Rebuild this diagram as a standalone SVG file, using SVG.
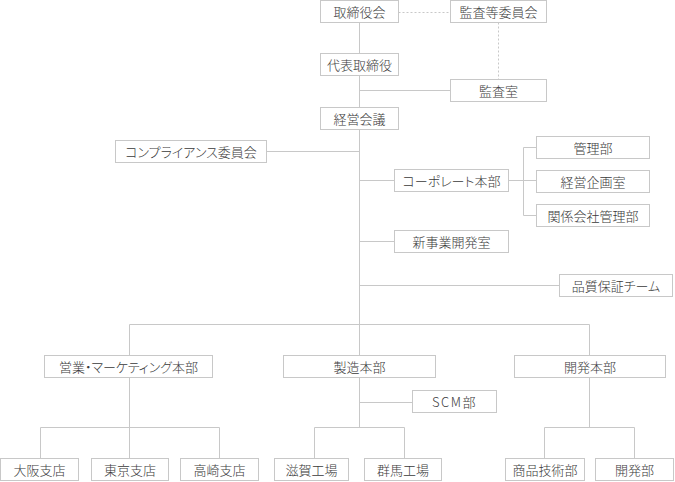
<svg xmlns="http://www.w3.org/2000/svg" width="675" height="482" viewBox="0 0 675 482">
<style>
.b rect{fill:#fff;stroke:#c8c8c8;stroke-width:1}
.b text{font-family:"Noto Sans CJK JP","Noto Sans",sans-serif;font-size:13px;font-weight:300;fill:#3a3a3a;text-anchor:middle;font-feature-settings:"palt" 1}
.c line{stroke:#c8c8c8;stroke-width:1;fill:none}
.c line.d{stroke-dasharray:2,2}
</style>
<rect width="675" height="482" fill="#fff"/>
<g class="c">
<line class="d" x1="398.5" y1="12.5" x2="450.5" y2="12.5"/>
<line class="d" x1="498.5" y1="22.5" x2="498.5" y2="79.5"/>
<line x1="359.5" y1="22.5" x2="359.5" y2="53.5"/>
<line x1="359.5" y1="75.5" x2="359.5" y2="107.5"/>
<line x1="359.5" y1="129.5" x2="359.5" y2="355.5"/>
<line x1="359.5" y1="90.5" x2="450.5" y2="90.5"/>
<line x1="266.5" y1="151.5" x2="359.5" y2="151.5"/>
<line x1="359.5" y1="180.5" x2="394.5" y2="180.5"/>
<line x1="508.5" y1="180.5" x2="536.5" y2="180.5"/>
<line x1="523.5" y1="147.5" x2="523.5" y2="215.5"/>
<line x1="523.5" y1="147.5" x2="536.5" y2="147.5"/>
<line x1="523.5" y1="215.5" x2="536.5" y2="215.5"/>
<line x1="359.5" y1="241.5" x2="394.5" y2="241.5"/>
<line x1="359.5" y1="285.5" x2="559.5" y2="285.5"/>
<line x1="129.5" y1="324.5" x2="589.5" y2="324.5"/>
<line x1="129.5" y1="324.5" x2="129.5" y2="355.5"/>
<line x1="589.5" y1="324.5" x2="589.5" y2="355.5"/>
<line x1="129.5" y1="377.5" x2="129.5" y2="458.5"/>
<line x1="40.5" y1="427.5" x2="219.5" y2="427.5"/>
<line x1="40.5" y1="427.5" x2="40.5" y2="458.5"/>
<line x1="219.5" y1="427.5" x2="219.5" y2="458.5"/>
<line x1="359.5" y1="377.5" x2="359.5" y2="427.5"/>
<line x1="359.5" y1="402.5" x2="412.5" y2="402.5"/>
<line x1="314.5" y1="427.5" x2="404.5" y2="427.5"/>
<line x1="314.5" y1="427.5" x2="314.5" y2="458.5"/>
<line x1="404.5" y1="427.5" x2="404.5" y2="458.5"/>
<line x1="589.5" y1="377.5" x2="589.5" y2="427.5"/>
<line x1="544.5" y1="427.5" x2="634.5" y2="427.5"/>
<line x1="544.5" y1="427.5" x2="544.5" y2="458.5"/>
<line x1="634.5" y1="427.5" x2="634.5" y2="458.5"/>
</g>
<g class="b" id="n-board"><rect x="320.5" y="0.5" width="78" height="22"/><text x="359.5" y="16.5">取締役会</text></g>
<g class="b" id="n-audit-committee"><rect x="450.5" y="0.5" width="96" height="22"/><text x="498.5" y="16.5">監査等委員会</text></g>
<g class="b" id="n-ceo"><rect x="320.5" y="53.5" width="78" height="22"/><text x="359.5" y="69.5">代表取締役</text></g>
<g class="b" id="n-audit-office"><rect x="450.5" y="79.5" width="96" height="22"/><text x="498.5" y="95.5">監査室</text></g>
<g class="b" id="n-mgmt-meeting"><rect x="320.5" y="107.5" width="78" height="22"/><text x="359.5" y="123.5">経営会議</text></g>
<g class="b" id="n-compliance"><rect x="115.5" y="140.5" width="151" height="22"/><text x="191" y="156.5">コンプライアンス委員会</text></g>
<g class="b" id="n-corporate"><rect x="394.5" y="169.5" width="114" height="22"/><text x="451.5" y="185.5">コーポレート本部</text></g>
<g class="b" id="n-admin"><rect x="536.5" y="136.5" width="113" height="22"/><text x="593" y="152.5">管理部</text></g>
<g class="b" id="n-planning"><rect x="536.5" y="170.5" width="113" height="22"/><text x="593" y="186.5">経営企画室</text></g>
<g class="b" id="n-affiliates"><rect x="536.5" y="204.5" width="113" height="22"/><text x="593" y="220.5">関係会社管理部</text></g>
<g class="b" id="n-newbiz"><rect x="394.5" y="230.5" width="114" height="22"/><text x="451.5" y="246.5">新事業開発室</text></g>
<g class="b" id="n-qa"><rect x="559.5" y="274.5" width="113" height="22"/><text x="616" y="290.5">品質保証チーム</text></g>
<g class="b" id="n-sales"><rect x="44.5" y="355.5" width="168" height="22"/><text x="128.5" y="371.5">営業・マーケティング本部</text></g>
<g class="b" id="n-mfg"><rect x="283.5" y="355.5" width="152" height="22"/><text x="359.5" y="371.5">製造本部</text></g>
<g class="b" id="n-dev"><rect x="514.5" y="355.5" width="151" height="22"/><text x="590" y="371.5">開発本部</text></g>
<g class="b" id="n-scm"><rect x="412.5" y="390.5" width="84" height="22"/><text x="454.5" y="406.5" letter-spacing="1.5">SCM部</text></g>
<g class="b" id="n-osaka"><rect x="0.5" y="458.5" width="78" height="22"/><text x="39.5" y="474.5">大阪支店</text></g>
<g class="b" id="n-tokyo"><rect x="91.5" y="458.5" width="77" height="22"/><text x="130" y="474.5">東京支店</text></g>
<g class="b" id="n-takasaki"><rect x="180.5" y="458.5" width="78" height="22"/><text x="219.5" y="474.5">高崎支店</text></g>
<g class="b" id="n-shiga"><rect x="274.5" y="458.5" width="74" height="22"/><text x="311.5" y="474.5">滋賀工場</text></g>
<g class="b" id="n-gunma"><rect x="364.5" y="458.5" width="77" height="22"/><text x="403" y="474.5">群馬工場</text></g>
<g class="b" id="n-product-tech"><rect x="505.5" y="458.5" width="79" height="22"/><text x="545" y="474.5">商品技術部</text></g>
<g class="b" id="n-devdept"><rect x="595.5" y="458.5" width="78" height="22"/><text x="634.5" y="474.5">開発部</text></g>
</svg>
